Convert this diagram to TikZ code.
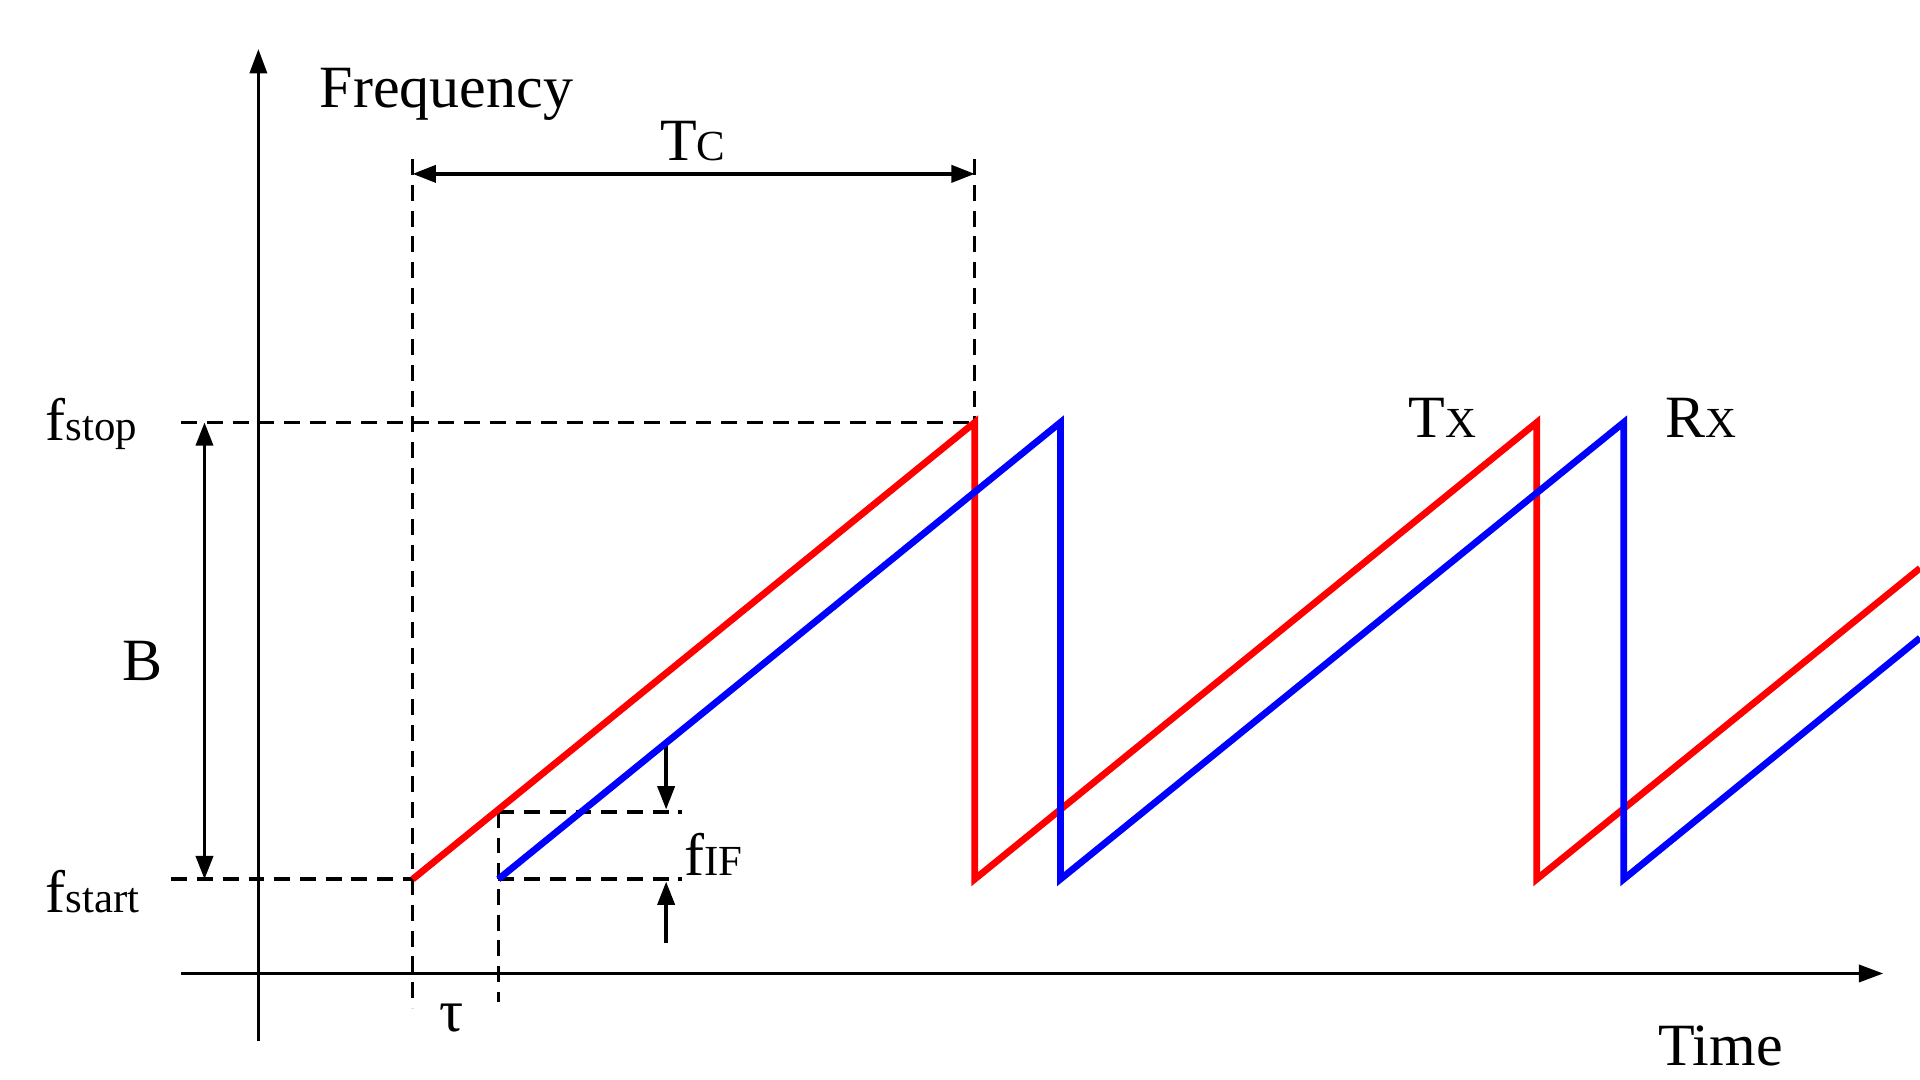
\documentclass[tikz,border=0pt]{standalone}
\usepackage{fontspec}
\setmainfont{Liberation Serif}
\usetikzlibrary{arrows.meta}
\newcommand{\bigf}{\fontsize{49}{52}\selectfont}
\newcommand{\smallf}{\fontsize{35}{37}\selectfont}
\begin{document}
\begin{tikzpicture}[x=1pt,y=-1pt,
  axis/.style={line width=2.8pt,-{Triangle[length=20pt,width=14pt]}},
  dimarrow/.style={line width=2.8pt,{Triangle[length=19pt,width=14pt]}-{Triangle[length=19pt,width=14pt]}},
  onearrow/.style={line width=2.8pt,-{Triangle[length=19pt,width=14pt]}},
  guide/.style={line width=2.8pt,dash pattern=on 13pt off 8pt},
  tx/.style={line width=5.5pt,red,line join=miter},
  rx/.style={line width=5.5pt,blue,line join=miter},
  lbl/.style={inner sep=0pt,anchor=base west}]
\useasboundingbox (0,0) rectangle (1568,882);
% coordinates
\coordinate (ybot) at (211,850);
\coordinate (ytop) at (211,40);
\coordinate (xl) at (148,795);
\coordinate (xr) at (1538,795);
\coordinate (r0) at (337,718);
\coordinate (r1) at (796,345);
\coordinate (r2) at (796,718);
\coordinate (r3) at (1255,345);
\coordinate (r4) at (1255,718);
\coordinate (r5) at (1568,464);
\coordinate (b0) at (407,718);
\coordinate (b1) at (866,345);
\coordinate (b2) at (866,718);
\coordinate (b3) at (1326,345);
\coordinate (b4) at (1326,718);
\coordinate (b5) at (1568,521);
\coordinate (stopL) at (148,345);
\coordinate (startL) at (140,718);
\coordinate (v1t) at (337,130);
\coordinate (v1b) at (337,823);
\coordinate (v2t) at (796,130);
\coordinate (v3t) at (407,663);
\coordinate (v3b) at (407,818);
\coordinate (ifU) at (557,663);
\coordinate (ifL) at (557,718);
\coordinate (tcL) at (337,142);
\coordinate (tcR) at (796,142);
\coordinate (bT) at (167,345);
\coordinate (bB) at (167,718);
\coordinate (a1s) at (544,608);
\coordinate (a1e) at (544,661);
\coordinate (a2s) at (544,770);
\coordinate (a2e) at (544,720);
% axes
\draw[axis] (ybot) -- (ytop);
\draw[axis] (xl) -- (xr);
% guides
\draw[guide] (stopL) -- (r1);
\draw[guide] (startL) -- (r0);
\draw[guide] (v1t) -- (v1b);
\draw[guide] (v2t) -- (r1);
\draw[guide] (v3t) -- (v3b);
\draw[guide] (v3t) -- (ifU);
\draw[guide] (b0) -- (ifL);
% dimension arrows
\draw[dimarrow] (tcL) -- (tcR);
\draw[dimarrow] (bT) -- (bB);
\draw[onearrow] (a1s) -- (a1e);
\draw[onearrow] (a2s) -- (a2e);
% signals
\draw[tx] (r0) -- (r1) -- (r2) -- (r3) -- (r4) -- (r5);
\draw[rx] (b0) -- (b1) -- (b2) -- (b3) -- (b4) -- (b5);
% labels
\node[lbl] (freq) at (261,88) {\bigf Frequency};
\node[lbl] (tc) at (539,131) {\bigf T{\smallf C}};
\node[lbl] (fstop) at (37,360) {\bigf f{\smallf stop}};
\node[lbl] (fstart) at (37,745) {\bigf f{\smallf start}};
\node[lbl] (bw) at (100,556) {\bigf B};
\node[lbl] (txl) at (1150,357) {\bigf T{\smallf X}};
\node[lbl] (rxl) at (1360,357) {\bigf R{\smallf X}};
\node[lbl] (fif) at (559,715) {\bigf f{\smallf IF}};
\node[lbl] (tau) at (359,842) {\bigf τ};
\node[lbl] (time) at (1354,870) {\bigf Time};
\end{tikzpicture}
\end{document}
